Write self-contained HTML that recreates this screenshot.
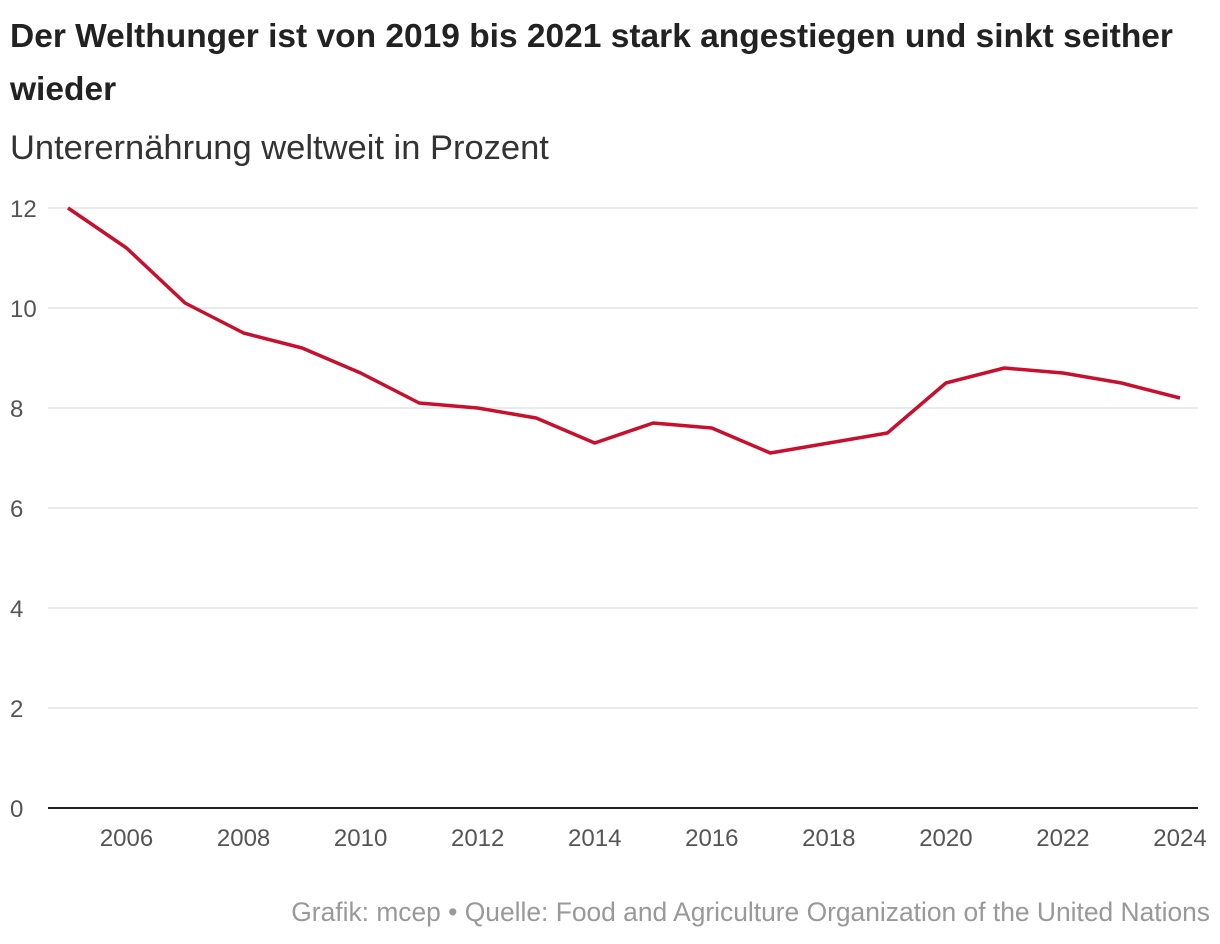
<!DOCTYPE html>
<html><head><meta charset="utf-8"><style>
body{margin:0;width:1220px;height:944px;background:#fff;font-family:"Liberation Sans",sans-serif;overflow:hidden}
#title{position:absolute;left:10px;top:10px;width:1195px;font-size:33.5px;font-weight:bold;color:#222;line-height:53px}
#sub{position:absolute;left:10px;top:128px;font-size:34.5px;color:#333;line-height:40px}
#src{position:absolute;right:10px;top:897px;font-size:26.4px;color:#999;white-space:nowrap}
svg{position:absolute;left:0;top:0}
</style></head><body>
<div id="title">Der Welthunger ist von 2019 bis 2021 stark angestiegen und sinkt seither wieder</div>
<div id="sub">Unterernährung weltweit in Prozent</div>
<svg id="chart" width="1220" height="944"></svg>
<div id="src">Grafik: mcep • Quelle: Food and Agriculture Organization of the United Nations</div>
<script>
const years=[2005,2006,2007,2008,2009,2010,2011,2012,2013,2014,2015,2016,2017,2018,2019,2020,2021,2022,2023,2024];
const values=[12,11.2,10.1,9.5,9.2,8.7,8.1,8.0,7.8,7.3,7.7,7.6,7.1,7.3,7.5,8.5,8.8,8.7,8.5,8.2];
const yTicks=[0,2,4,6,8,10,12];
const xTicks=[2006,2008,2010,2012,2014,2016,2018,2020,2022,2024];
const NS="http://www.w3.org/2000/svg",svg=document.getElementById('chart');
const x=v=>68+(v-2005)*(1180-68)/19, y=v=>808-v*50;
function mk(t,a){const e=document.createElementNS(NS,t);for(const k in a)e.setAttribute(k,a[k]);svg.appendChild(e);return e;}
yTicks.forEach(t=>{
 const l=mk('line',{x1:48,x2:1198,y1:y(t),y2:y(t),stroke:t==0?'#222':'#ddd','stroke-width':t==0?2:1.2});
 
 
 const tx=mk('text',{x:10,y:y(t)+9,'font-size':24,fill:'#555','font-family':'Liberation Sans, sans-serif'});
 tx.textContent=t;
 
 
});
xTicks.forEach(t=>{
 const tx=mk('text',{x:x(t),y:846,'font-size':24,fill:'#555','text-anchor':'middle','font-family':'Liberation Sans, sans-serif'});
 tx.textContent=t;
 
 
});
const p=mk('polyline',{points:years.map((yr,i)=>x(yr)+','+y(values[i])).join(' '),fill:'none',stroke:'#c8102e','stroke-width':3.5,'stroke-linejoin':'round'});


</script>
</body></html>
